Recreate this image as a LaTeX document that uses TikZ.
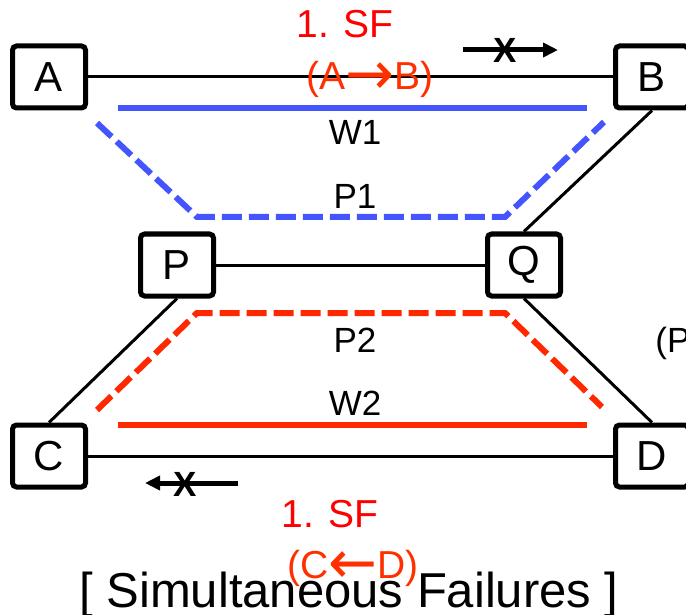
\documentclass[tikz,border=0pt]{standalone}
\usepackage{fontspec}
\setmainfont{Liberation Sans}
\newfontfamily\arrowfont{DejaVu Sans}
\usepackage{graphicx}
\usepackage{tikz}
\usetikzlibrary{arrows.meta}
\definecolor{SFred}{RGB}{255,0,0}
\definecolor{DIRred}{RGB}{255,48,0}
\definecolor{LSPred}{RGB}{255,40,0}
\definecolor{LSPblue}{RGB}{68,84,255}
\newcommand{\sfarrow}[1]{\raisebox{-2.5pt}{\scalebox{1.5}[1.55]{\arrowfont #1}}}

\begin{document}
\begin{tikzpicture}[
  x=0.5pt,y=-0.5pt,
  router/.style={rectangle,draw=black,fill=white,line width=2.5pt,rounded corners=2pt,minimum width=36.5pt,minimum height=31pt,inner sep=0pt,font=\fontsize{21}{21}\selectfont},
  link/.style={line width=1.5pt,draw=black},
  work/.style={line width=3pt},
  prot/.style={line width=3pt,dash pattern=on 10pt off 3.5pt},
  lbl/.style={inner sep=0pt,anchor=base,font=\fontsize{17.5}{17.5}\selectfont},
  sf/.style={inner sep=0pt,anchor=base,font=\fontsize{19.5}{19.5}\selectfont},
  dir/.style={-{Triangle[length=7.5pt,width=7pt]},line width=2.5pt},
  cross/.style={inner sep=0pt,anchor=base,font=\fontsize{17.5}{17.5}\selectfont\bfseries},
]
\useasboundingbox (0,0) rectangle (686,615);
\clip (0,0) rectangle (686,615);

% Knoten
\node[router] (A) at (49,77) {A};
\node[router] (B) at (652,77) {B};
\node[router] (P) at (177,265) {P};
\node[router] (Q) at (524,265) {Q};
\node[router] (C) at (49,456) {C};
\node[router] (D) at (652,456) {D};

% Links
\draw[link] (A) -- (B);
\draw[link] (P) -- (Q);
\draw[link] (C) -- (D);
\draw[link] (B.south) -- (Q.north);
\draw[link] (P.south) -- (C.north);
\draw[link] (Q.south) -- (D.north);

% Working und Protection LSPs
\draw[work,LSPblue] (118,108) -- (587,108);
\draw[prot,LSPblue] (97,123) -- (197,217) -- (505,217) -- (604,122);
\draw[prot,LSPred] (97,410) -- (197,313) -- (505,313) -- (602,407);
\draw[work,LSPred] (118,425) -- (587,425);

\node[lbl] (w1) at (355,145) {W1};
\node[lbl] (p1) at (355,208) {P1};
\node[lbl] (p2) at (355,352) {P2};
\node[lbl] (w2) at (355,415) {W2};
\node[lbl,anchor=base west] (pl) at (655,352) {(P};

% Fehler
\node[sf,text=SFred] (sf1) at (345,38) {1. SF};
\node[sf,text=DIRred] (ab) at (370,90) {(A\sfarrow{→}B)};
\coordinate (t1) at (463,50);
\coordinate (t2) at (558,50);
\draw[dir] (t1) -- (t2);
\node[cross] (x1) at (505,63) {X};

\coordinate (b1) at (238,483);
\coordinate (b2) at (145,483);
\draw[dir] (b1) -- (b2);
\node[cross] (x2) at (185,496) {X};
\node[sf,text=SFred] (sf2) at (330,527) {1. SF};
\node[sf,text=DIRred] (cd) at (353,578) {(C\sfarrow{←}D)};

\node[inner sep=0pt,anchor=base,font=\fontsize{24.5}{24.5}\selectfont] (title) at (349,607) {[ Simultaneous Failures ]};

\end{tikzpicture}
\end{document}
